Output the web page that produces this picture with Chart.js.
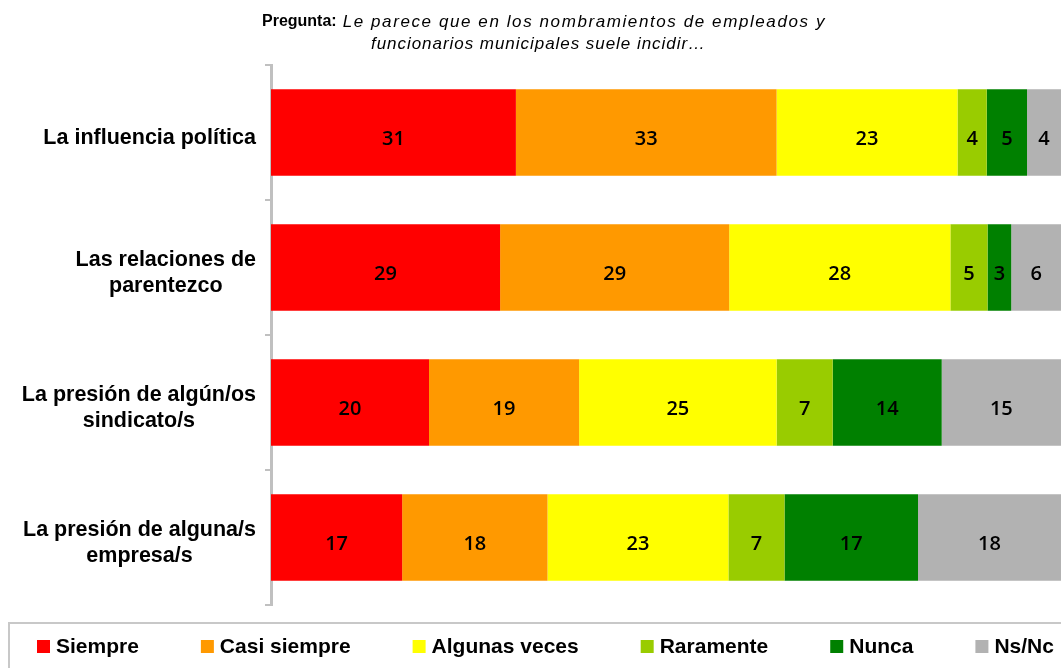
<!DOCTYPE html>
<html><head><meta charset="utf-8">
<script src="https://cdn.jsdelivr.net/npm/chart.js@4"></script>
<style>html,body{margin:0;padding:0;background:#fff;overflow:hidden;}</style>
</head><body>
<canvas id="c" width="1061" height="668"></canvas>
<script>
const categories = [["La influencia política"], ["Las relaciones de", "parentezco"], ["La presión de algún/os", "sindicato/s"], ["La presión de alguna/s", "empresa/s"]];
const seriesNames = ["Siempre", "Casi siempre", "Algunas veces", "Raramente", "Nunca", "Ns/Nc"];
const seriesColors = ["#ff0000", "#ff9900", "#ffff00", "#99cc00", "#008000", "#b2b2b2"];
const siempre = [31.0, 29.0, 20.0, 16.6];
const casiSiempre = [33.0, 29.0, 19.0, 18.4];
const algunasVeces = [22.9, 28.0, 25.0, 22.9];
const raramente = [3.7, 4.7, 7.1, 7.1];
const nunca = [5.1, 3.0, 13.8, 16.9];
const nsnc = [4.3, 6.3, 15.1, 18.1];
const titleBold = "Pregunta:";
const titleLine1 = "Le parece que en los nombramientos de empleados y";
const titleLine2 = "funcionarios municipales suele incidir…";

const seriesValues = [siempre, casiSiempre, algunasVeces, raramente, nunca, nsnc];
const LABEL_FONT = 'bold 21.5px "Liberation Sans"';

const valueLabels = {
  id: 'valueLabels',
  afterDatasetsDraw(chart) {
    const ctx = chart.ctx;
    ctx.save();
    ctx.font = '600 20px "Open Sans"';
    ctx.fillStyle = '#000';
    ctx.textAlign = 'center';
    ctx.textBaseline = 'middle';
    chart.data.datasets.forEach((ds, i) => {
      const meta = chart.getDatasetMeta(i);
      meta.data.forEach((bar, j) => {
        const p = bar.getProps(['x', 'y', 'base'], true);
        ctx.fillText(String(Math.round(ds.data[j])), (p.x + p.base) / 2, p.y + 7);
      });
    });
    ctx.restore();
  }
};

// category labels: block right-aligned to the axis, lines centred inside the block
const categoryLabels = {
  id: 'categoryLabels',
  afterDraw(chart) {
    const ctx = chart.ctx;
    const ys = chart.scales.y;
    ctx.save();
    ctx.font = LABEL_FONT;
    ctx.fillStyle = '#000';
    ctx.textAlign = 'center';
    ctx.textBaseline = 'middle';
    const right = ys.right - 15;
    const lh = 26;
    chart.data.labels.forEach((lines, i) => {
      const yc = ys.getPixelForValue(i) + 6;
      const bw = Math.max(...lines.map(l => ctx.measureText(l).width));
      const cx = right - bw / 2;
      const y0 = yc - (lines.length - 1) * lh / 2;
      lines.forEach((l, k) => ctx.fillText(l, cx, y0 + k * lh));
    });
    ctx.restore();
  }
};

function fitText(ctx, text, x, y, width) {
  ctx.letterSpacing = '0px';
  const w = ctx.measureText(text).width;
  const ls = Math.max(0, (width - w) / text.length);
  ctx.letterSpacing = ls + 'px';
  ctx.fillText(text, x, y);
  ctx.letterSpacing = '0px';
}

const titleAndLegend = {
  id: 'titleAndLegend',
  afterDraw(chart) {
    const ctx = chart.ctx;
    ctx.save();
    ctx.fillStyle = '#000';
    ctx.textBaseline = 'middle';
    ctx.textAlign = 'left';
    // title
    ctx.font = 'bold 16px "Liberation Sans"';
    ctx.fillText(titleBold, 262, 22);
    const bw = ctx.measureText(titleBold).width;
    ctx.font = 'italic 17px "Liberation Sans"';
    const x1 = 262 + bw + 6;
    fitText(ctx, titleLine1, x1, 22, 826 - x1);
    fitText(ctx, titleLine2, 371, 44, 335);
    // legend frame
    ctx.strokeStyle = '#c8c8c8';
    ctx.lineWidth = 2;
    ctx.strokeRect(9, 623, 1070, 70);
    // legend items
    ctx.font = LABEL_FONT;
    ctx.font = 'bold 21px "Liberation Sans"';
    let x = 37;
    const y = 646;
    chart.data.datasets.forEach((ds) => {
      ctx.fillStyle = ds.backgroundColor;
      ctx.fillRect(x, y - 6, 13, 13);
      ctx.fillStyle = '#000';
      const tx = x + 19;
      ctx.fillText(ds.label, tx, y + 1);
      x = tx + ctx.measureText(ds.label).width + 62;
    });
    ctx.restore();
  }
};

new Chart(document.getElementById('c'), {
  type: 'bar',
  data: {
    labels: categories,
    datasets: seriesNames.map((n, i) => ({
      label: n,
      data: seriesValues[i],
      backgroundColor: seriesColors[i],
      borderWidth: 0,
      barPercentage: 0.64,
      categoryPercentage: 1.0
    }))
  },
  options: {
    indexAxis: 'y',
    responsive: false,
    animation: false,
    devicePixelRatio: 1,
    layout: { padding: { top: 65, bottom: 63, left: 0, right: 0 } },
    plugins: { legend: { display: false }, title: { display: false }, tooltip: { enabled: false } },
    scales: {
      x: { stacked: true, min: 0, max: 100, display: false },
      y: {
        stacked: true,
        grid: { display: true, drawOnChartArea: false, drawTicks: true, tickLength: 6, color: '#c0c0c0', lineWidth: 2, offset: true },
        border: { display: true, color: '#c0c0c0', width: 3 },
        ticks: { display: false },
        afterFit(s) { s.width = 271; }
      }
    }
  },
  plugins: [valueLabels, categoryLabels, titleAndLegend]
});
</script>
</body></html>
